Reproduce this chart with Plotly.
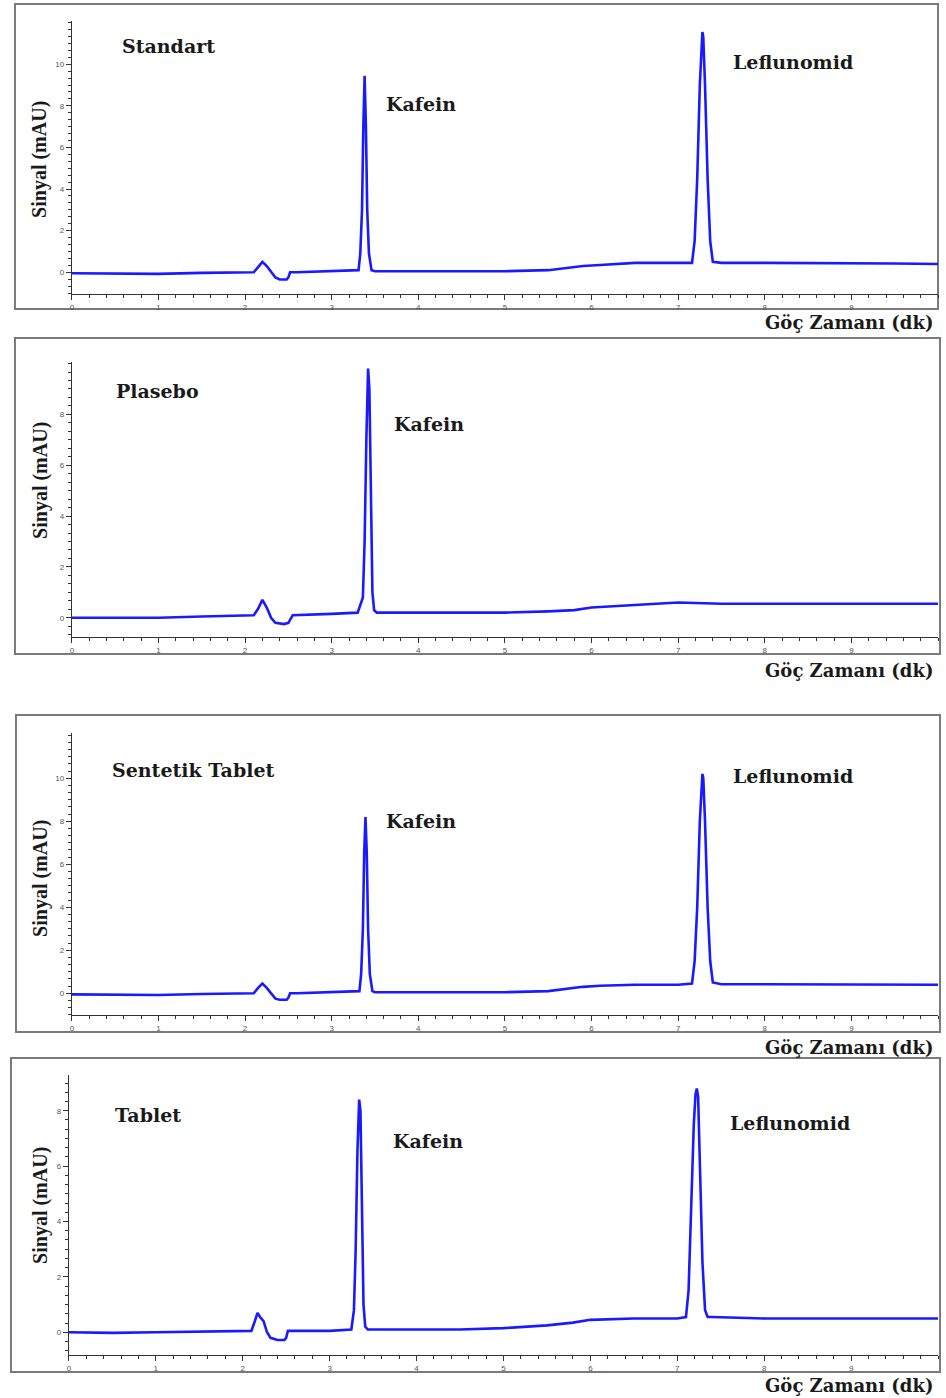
import plotly.graph_objects as go

# Electropherograms: (migration time in min, signal in mAU)
standart = [
    (0.0, -0.05), (0.5, -0.05), (1.0, -0.08), (1.5, -0.03), (2.0, 0.0), (2.1, 0.0),
    (2.15, 0.25), (2.2, 0.5), (2.25, 0.3), (2.3, 0.0), (2.35, -0.25), (2.4, -0.35),
    (2.48, -0.35), (2.5, -0.25), (2.52, 0.0), (2.6, 0.0), (3.0, 0.05), (3.31, 0.1),
    (3.33, 0.9), (3.35, 3.0), (3.365, 7.0), (3.38, 9.45), (3.395, 7.0), (3.41, 3.0),
    (3.43, 0.9), (3.46, 0.1), (3.5, 0.05), (4.0, 0.05), (4.5, 0.05), (5.0, 0.05),
    (5.5, 0.1), (5.7, 0.2), (5.9, 0.3), (6.1, 0.35), (6.5, 0.45), (7.0, 0.45),
    (7.16, 0.45), (7.19, 1.5), (7.22, 4.5), (7.25, 9.0), (7.27, 11.3), (7.28, 11.55),
    (7.29, 11.3), (7.31, 9.0), (7.34, 4.5), (7.37, 1.5), (7.40, 0.5), (7.5, 0.45),
    (8.0, 0.45), (8.5, 0.45), (9.0, 0.45), (9.5, 0.42), (10.0, 0.4),
]
plasebo = [
    (0.0, 0.0), (0.5, 0.0), (1.0, 0.0), (1.5, 0.05), (2.0, 0.1), (2.1, 0.1),
    (2.15, 0.35), (2.2, 0.7), (2.25, 0.4), (2.3, 0.0), (2.35, -0.2), (2.45, -0.25),
    (2.5, -0.2), (2.55, 0.1), (3.0, 0.15), (3.3, 0.2), (3.36, 0.8), (3.38, 3.0),
    (3.40, 7.0), (3.42, 9.8), (3.435, 9.0), (3.45, 4.5), (3.47, 1.0), (3.49, 0.3),
    (3.52, 0.2), (4.0, 0.2), (4.5, 0.2), (5.0, 0.2), (5.5, 0.25), (5.8, 0.3),
    (6.0, 0.4), (6.2, 0.45), (6.5, 0.5), (7.0, 0.6), (7.5, 0.55), (8.0, 0.55),
    (8.5, 0.55), (9.0, 0.55), (9.5, 0.55), (10.0, 0.55),
]
sentetik_tablet = [
    (0.0, -0.05), (0.5, -0.05), (1.0, -0.08), (1.5, -0.03), (2.0, 0.0), (2.1, 0.0),
    (2.15, 0.25), (2.2, 0.45), (2.25, 0.25), (2.3, 0.0), (2.35, -0.25), (2.4, -0.3),
    (2.48, -0.3), (2.5, -0.2), (2.52, 0.0), (2.6, 0.0), (3.0, 0.05), (3.32, 0.1),
    (3.34, 0.9), (3.36, 3.0), (3.375, 6.5), (3.39, 8.2), (3.405, 6.5), (3.42, 3.0),
    (3.44, 0.9), (3.47, 0.1), (3.5, 0.05), (4.0, 0.05), (4.5, 0.05), (5.0, 0.05),
    (5.5, 0.1), (5.7, 0.2), (5.9, 0.3), (6.1, 0.35), (6.5, 0.4), (7.0, 0.4),
    (7.16, 0.45), (7.19, 1.5), (7.22, 4.0), (7.25, 8.0), (7.27, 10.0), (7.28, 10.2),
    (7.29, 10.0), (7.31, 8.0), (7.34, 4.0), (7.37, 1.5), (7.40, 0.5), (7.5, 0.42),
    (8.0, 0.42), (8.5, 0.42), (9.0, 0.42), (9.5, 0.4), (10.0, 0.4),
]
tablet = [
    (0.0, 0.0), (0.5, -0.02), (1.0, 0.0), (1.5, 0.02), (2.0, 0.05), (2.1, 0.05),
    (2.14, 0.4), (2.17, 0.7), (2.2, 0.55), (2.24, 0.4), (2.28, 0.0), (2.32, -0.2),
    (2.4, -0.28), (2.48, -0.28), (2.5, -0.2), (2.52, 0.05), (3.0, 0.05), (3.25, 0.1),
    (3.28, 0.8), (3.30, 3.0), (3.32, 6.5), (3.34, 8.4), (3.355, 8.0), (3.37, 4.0),
    (3.39, 1.0), (3.41, 0.2), (3.44, 0.1), (3.5, 0.1), (4.0, 0.1), (4.5, 0.1),
    (5.0, 0.15), (5.5, 0.25), (5.8, 0.35), (6.0, 0.45), (6.5, 0.5), (7.0, 0.5),
    (7.1, 0.55), (7.13, 1.5), (7.16, 4.5), (7.19, 7.5), (7.21, 8.6), (7.225, 8.8),
    (7.24, 8.5), (7.26, 6.0), (7.29, 2.5), (7.32, 0.8), (7.35, 0.55), (7.4, 0.55),
    (8.0, 0.5), (8.5, 0.5), (9.0, 0.5), (9.5, 0.5), (10.0, 0.5),
]

sample_names = ["Standart", "Plasebo", "Sentetik Tablet", "Tablet"]
series = [standart, plasebo, sentetik_tablet, tablet]
y_ranges = [(-1.06, 12.08), (-0.77, 10.05), (-1.01, 12.09), (-0.82, 9.29)]
y_tickvals = [[0, 2, 4, 6, 8, 10], [0, 2, 4, 6, 8], [0, 2, 4, 6, 8, 10], [0, 2, 4, 6, 8]]
x_tickvals = [0, 1, 2, 3, 4, 5, 6, 7, 8, 9]
peak_labels = [
    [("Kafein", 420, 104), ("Leflunomid", 793, 62)],
    [("Kafein", 428, 424)],
    [("Kafein", 420, 821), ("Leflunomid", 793, 776)],
    [("Kafein", 427, 1141), ("Leflunomid", 790, 1123)],
]

W, H = 946, 1398

# Pixel layout of each panel: plot area (left, right, top, bottom), frame box,
# sample-name position, x-title row, y-title centre
plot_px = [(70, 938, 21, 294.3), (70, 938, 362.3, 637.3),
           (70, 938, 733.3, 1015), (67, 938, 1075, 1355)]
frame_px = [(13, 938, 4, 309), (13, 940, 338, 654), (14, 940, 715, 1032), (9, 940, 1058, 1372)]
name_px = [(167, 46), (156, 391), (191, 770), (146, 1115)]
xtitle_y = [322, 670, 1047, 1385]
ytitle_y = [159, 480, 878, 1205]


def px_x(v):
    return v / W


def px_y(v):
    return 1 - v / H


serif_bold = dict(family="DejaVu Serif", size=19, color="#1a1a1a", weight="bold")
tick_font = dict(family="Liberation Sans", size=8, color="#555555")

fig = go.Figure()
annotations = []
shapes = []

for i, (name, data) in enumerate(zip(sample_names, series)):
    k = "" if i == 0 else str(i + 1)
    t = [p[0] for p in data]
    s = [p[1] for p in data]
    fig.add_trace(go.Scatter(
        x=t, y=s, mode="lines", xaxis="x" + k, yaxis="y" + k,
        line=dict(color="#1a1aff", width=2.6), showlegend=False,
    ))
    l, r, tp, bt = plot_px[i]
    fig.layout["xaxis" + k] = dict(
        domain=[px_x(l), px_x(r)], anchor="y" + k, range=[0, 10],
        tickvals=x_tickvals, ticks="outside", ticklen=5, tickcolor="#333333",
        showline=True, linecolor="#333333", linewidth=1, showgrid=False, zeroline=False,
        tickfont=tick_font,
        minor=dict(dtick=0.2, ticks="outside", ticklen=3, tickcolor="#333333", showgrid=False),
    )
    fig.layout["yaxis" + k] = dict(
        domain=[px_y(bt), px_y(tp)], anchor="x" + k, range=list(y_ranges[i]),
        tickvals=y_tickvals[i], ticks="outside", ticklen=5, tickcolor="#333333",
        showline=True, linecolor="#333333", linewidth=1, showgrid=False, zeroline=False,
        tickfont=tick_font,
        minor=dict(dtick=1 / 3, ticks="outside", ticklen=3, tickcolor="#333333", showgrid=False),
    )

    fl, fr, ft, fb = frame_px[i]
    shapes.append(dict(type="rect", xref="paper", yref="paper",
                       x0=px_x(fl), x1=px_x(fr), y0=px_y(fb), y1=px_y(ft),
                       line=dict(color="#7a7a7a", width=2), layer="below"))

    nx, ny = name_px[i]
    annotations.append(dict(text=name, xref="paper", yref="paper", x=px_x(nx), y=px_y(ny),
                            xanchor="center", yanchor="middle", showarrow=False, font=serif_bold))
    for txt, ax_, ay_ in peak_labels[i]:
        annotations.append(dict(text=txt, xref="paper", yref="paper", x=px_x(ax_), y=px_y(ay_),
                                xanchor="center", yanchor="middle", showarrow=False, font=serif_bold))
    annotations.append(dict(text="Göç Zamanı (dk)", xref="paper", yref="paper",
                            x=px_x(935), y=px_y(xtitle_y[i]), xanchor="right", yanchor="middle",
                            showarrow=False,
                            font=dict(family="DejaVu Serif", size=18, color="#1a1a1a", weight="bold")))
    annotations.append(dict(text="Sinyal (mAU)", xref="paper", yref="paper",
                            x=px_x(38), y=px_y(ytitle_y[i]), xanchor="center", yanchor="middle",
                            textangle=-90, showarrow=False,
                            font=dict(family="Liberation Serif", size=20, color="#1a1a1a", weight="bold")))

fig.update_layout(
    width=W, height=H, margin=dict(l=0, r=0, t=0, b=0),
    paper_bgcolor="white", plot_bgcolor="white",
    annotations=annotations, shapes=shapes, showlegend=False,
)

fig.write_html("out.html")
